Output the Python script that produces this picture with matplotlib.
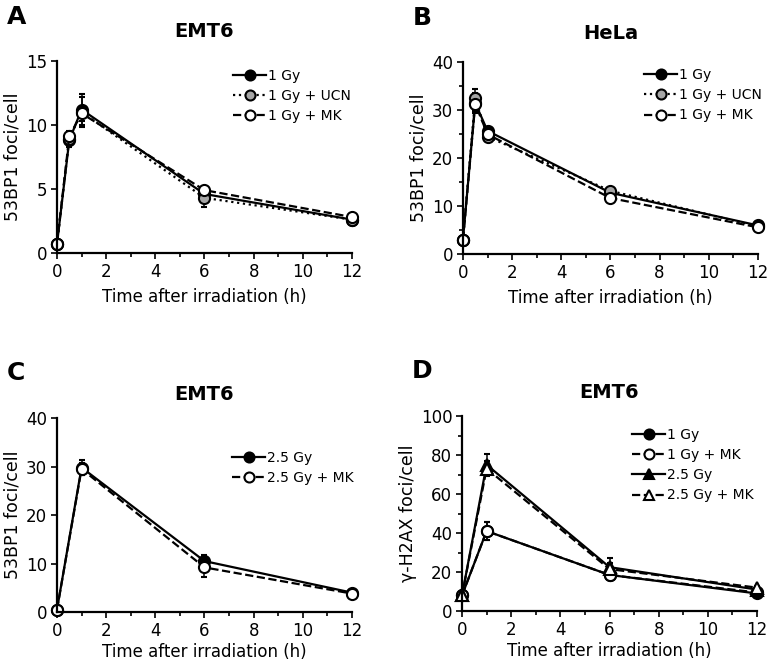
import matplotlib
matplotlib.use("Agg")
import matplotlib.pyplot as plt
from matplotlib.ticker import MultipleLocator

plt.rcParams['font.family'] = ['DejaVu Sans']

# panel A - EMT6, 53BP1
t_a = [0, 0.5, 1, 6, 12]
a_1gy = [0.7, 8.8, 11.2, 4.6, 2.6]
a_1gy_err = [0.1, 0.5, 1.2, 0.3, 0.4]
a_ucn = [0.7, 8.9, 11.0, 4.3, 2.6]
a_ucn_err = [0.1, 0.4, 1.2, 0.7, 0.3]
a_mk = [0.7, 9.1, 10.9, 4.9, 2.8]
a_mk_err = [0.1, 0.4, 0.6, 0.3, 0.3]

# panel B - HeLa, 53BP1
t_b = [0, 0.5, 1, 6, 12]
b_1gy = [3.0, 31.5, 25.7, 12.8, 6.0]
b_1gy_err = [0.3, 2.0, 0.8, 0.6, 0.4]
b_ucn = [3.0, 32.5, 24.5, 13.2, 5.8]
b_ucn_err = [0.3, 2.0, 0.8, 0.6, 0.4]
b_mk = [3.0, 31.3, 25.0, 11.7, 5.6]
b_mk_err = [0.3, 1.5, 0.8, 0.6, 0.4]

# panel C - EMT6 2.5 Gy, 53BP1
t_c = [0, 1, 6, 12]
c_25gy = [0.5, 29.8, 10.5, 4.0]
c_25gy_err = [0.2, 1.6, 1.3, 0.4]
c_mk = [0.5, 29.5, 9.2, 3.8]
c_mk_err = [0.2, 1.2, 2.0, 0.4]

# panel D - EMT6, gamma-H2AX
t_d = [0, 1, 6, 12]
d_1gy = [8.0, 41.0, 18.5, 9.0]
d_1gy_err = [1.0, 4.5, 2.0, 1.0]
d_1gy_mk = [8.0, 41.0, 18.5, 9.5]
d_1gy_mk_err = [1.0, 4.5, 2.0, 1.0]
d_25gy = [8.0, 75.0, 22.5, 11.0]
d_25gy_err = [1.0, 5.5, 4.5, 1.0]
d_25gy_mk = [8.0, 73.0, 21.5, 12.0]
d_25gy_mk_err = [1.0, 4.0, 3.0, 1.0]

fig = plt.figure(figsize=(7.69, 6.62), dpi=100)
axA = fig.add_axes([0.0741, 0.618, 0.3836, 0.290])
axB = fig.add_axes([0.602, 0.616, 0.3836, 0.290])
axC = fig.add_axes([0.0741, 0.0755, 0.3836, 0.293])
axD = fig.add_axes([0.6008, 0.077, 0.3836, 0.2946])

lw = 1.6
ms = 8
handles = {axA: [], axB: [], axC: [], axD: []}
labels = {axA: [], axB: [], axC: [], axD: []}


def series(ax, x, y, err, ls, marker, fc, label):
    c = ax.errorbar(x, y, yerr=err, color='black', linestyle=ls, linewidth=lw,
                    marker=marker, markersize=ms, markerfacecolor=fc,
                    markeredgecolor='black', markeredgewidth=1.5,
                    ecolor='black', elinewidth=1.1, capsize=2.5, capthick=1.1,
                    clip_on=False)
    handles[ax].append(c[0])
    labels[ax].append(label)


def style(ax, ymax, ymajor, yminor, ylabel, title, letter, top_row):
    ax.set_xlim(0, 12)
    ax.set_ylim(0, ymax)
    ax.xaxis.set_major_locator(MultipleLocator(2))
    ax.xaxis.set_minor_locator(MultipleLocator(1))
    ax.yaxis.set_major_locator(MultipleLocator(ymajor))
    if yminor:
        ax.yaxis.set_minor_locator(MultipleLocator(yminor))
    for s in ['top', 'right']:
        ax.spines[s].set_visible(False)
    for s in ['left', 'bottom']:
        ax.spines[s].set_linewidth(1.6)
    ax.tick_params(which='major', direction='out', length=4, width=1.2,
                   labelsize=12, pad=3)
    ax.tick_params(which='minor', direction='out', length=3, width=1.2)
    ax.set_xlabel('Time after irradiation (h)', fontsize=12,
                  labelpad=5 if top_row else 2)
    ax.set_ylabel(ylabel, fontsize=12.5, labelpad=3)
    ax.set_title(title, fontsize=14, fontweight='bold', pad=17 if top_row else 13)
    ax.text(-0.17, 1.23, letter, transform=ax.transAxes, fontsize=18,
            fontweight='bold', va='center', ha='left')


series(axA, t_a, a_1gy, a_1gy_err, '-', 'o', 'black', '1 Gy')
series(axA, t_a, a_ucn, a_ucn_err, ':', 'o', '#a6a6a6', '1 Gy + UCN')
series(axA, t_a, a_mk, a_mk_err, '--', 'o', 'white', '1 Gy + MK')
style(axA, 15, 5, None, '53BP1 foci/cell', 'EMT6', 'A', True)

series(axB, t_b, b_1gy, b_1gy_err, '-', 'o', 'black', '1 Gy')
series(axB, t_b, b_ucn, b_ucn_err, ':', 'o', '#a6a6a6', '1 Gy + UCN')
series(axB, t_b, b_mk, b_mk_err, '--', 'o', 'white', '1 Gy + MK')
style(axB, 40, 10, 5, '53BP1 foci/cell', 'HeLa', 'B', True)

series(axC, t_c, c_25gy, c_25gy_err, '-', 'o', 'black', '2.5 Gy')
series(axC, t_c, c_mk, c_mk_err, '--', 'o', 'white', '2.5 Gy + MK')
style(axC, 40, 10, None, '53BP1 foci/cell', 'EMT6', 'C', False)

series(axD, t_d, d_1gy, d_1gy_err, '-', 'o', 'black', '1 Gy')
series(axD, t_d, d_1gy_mk, d_1gy_mk_err, '--', 'o', 'white', '1 Gy + MK')
series(axD, t_d, d_25gy, d_25gy_err, '-', '^', 'black', '2.5 Gy')
series(axD, t_d, d_25gy_mk, d_25gy_mk_err, '--', '^', 'white', '2.5 Gy + MK')
style(axD, 100, 20, 10, '\u03b3-H2AX foci/cell', 'EMT6', 'D', False)

legend_pos = {axA: (0.597, 0.96), axB: (0.614, 0.97), axC: (0.593, 0.83), axD: (0.576, 0.94)}
for ax, pos in legend_pos.items():
    ax.legend(handles[ax], labels[ax], loc='upper left', bbox_to_anchor=pos,
              frameon=False, fontsize=10, handlelength=2.4, handletextpad=0.1,
              labelspacing=0.45, borderaxespad=0, borderpad=0, markerscale=0.9)

fig.savefig('out.png', dpi=100)
